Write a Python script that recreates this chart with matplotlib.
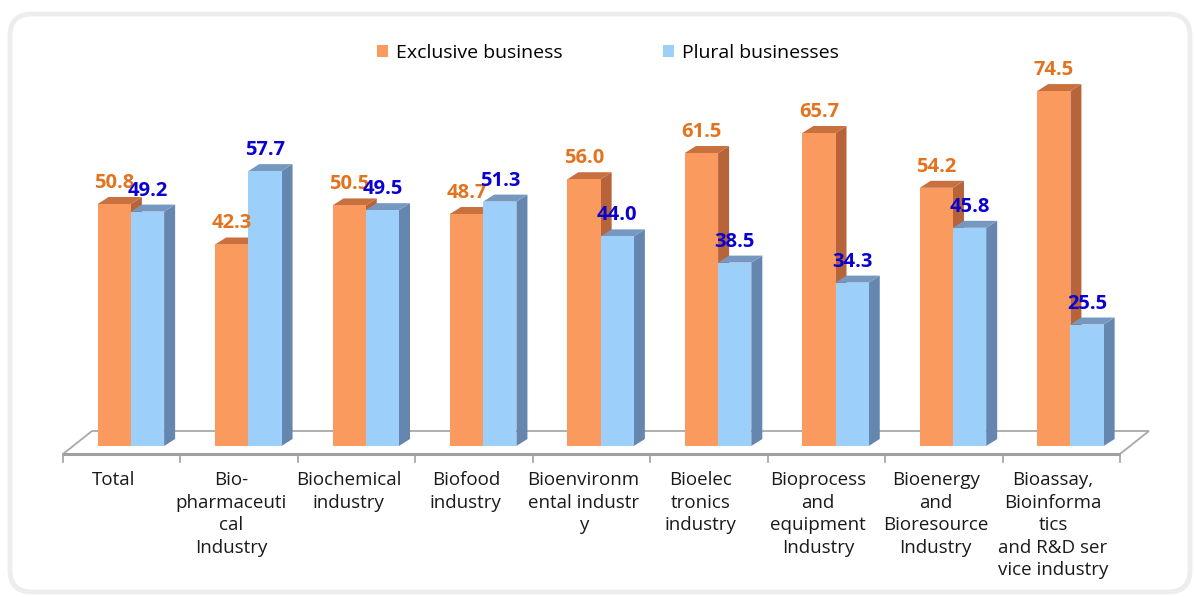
import matplotlib.pyplot as plt
from matplotlib.patches import Polygon, Patch, FancyBboxPatch
from matplotlib.transforms import IdentityTransform

# data
categories = ["Total",
              "Bio-\npharmaceuti\ncal\nIndustry",
              "Biochemical\nindustry",
              "Biofood\nindustry",
              "Bioenvironm\nental industr\ny",
              "Bioelec\ntronics\nindustry",
              "Bioprocess\nand\nequipment\nIndustry",
              "Bioenergy\nand\nBioresource\nIndustry",
              "Bioassay,\nBioinforma\ntics\nand R&D ser\nvice industry"]
exclusive = [50.8, 42.3, 50.5, 48.7, 56.0, 61.5, 65.7, 54.2, 74.5]
plural = [49.2, 57.7, 49.5, 51.3, 44.0, 38.5, 34.3, 45.8, 25.5]

plt.rcParams['font.family'] = ['Open Sans', 'DejaVu Sans']

W, H = 1194, 597
fig = plt.figure(figsize=(W / 100, H / 100), dpi=100)
fig.patch.set_facecolor('white')

# rounded panel border
fig.patches.append(FancyBboxPatch((10, 5), 1180, 578,
                                  boxstyle="round,pad=0,rounding_size=22",
                                  transform=IdentityTransform(),
                                  facecolor='none', edgecolor='#ededed',
                                  lw=3.5, zorder=-1))

# axis mapping (pixel layout)
x_left_px, cat_px = 63, 117.44      # left edge of first category, px per category
y0_px, unit_px = 446, 4.764         # pixel row of value 0, px per unit
ax = fig.add_axes([0, 0, 1, 1])
ax.set_xlim(-0.5 - x_left_px / cat_px, -0.5 + (W - x_left_px) / cat_px)
ax.set_ylim(-(H - y0_px) / unit_px, y0_px / unit_px)
ax.axis('off')
ax.patch.set_alpha(0)

n = len(categories)
bw = 0.283
dx = 11 / cat_px
dy = 7 / unit_px

# floor
f_front = -8 / unit_px
f_back = 15 / unit_px
f_shift = 29 / cat_px
floor = Polygon([(-0.5, f_front), (n - 0.5, f_front), (n - 0.5 + f_shift, f_back),
                 (-0.5 + f_shift, f_back)], closed=True, facecolor='white',
                edgecolor='#a8a8a8', lw=1.3, zorder=1)
ax.add_patch(floor)
ax.plot([-0.5, n - 0.5], [f_front, f_front], color='#a0a0a0', lw=2.2, zorder=1,
        solid_capstyle='butt')
for i in range(n + 1):
    ax.plot([i - 0.5, i - 0.5], [f_front, f_front - 8 / unit_px], color='#a0a0a0',
            lw=1.2, zorder=1)


def bar3d(x0, h, front, side, top, z):
    ax.add_patch(Polygon([(x0 + bw, 0), (x0 + bw + dx, dy), (x0 + bw + dx, h + dy),
                          (x0 + bw, h)], closed=True, facecolor=side, lw=0, zorder=z))
    ax.add_patch(Polygon([(x0, h), (x0 + bw, h), (x0 + bw + dx, h + dy), (x0 + dx, h + dy)],
                         closed=True, facecolor=top, lw=0, zorder=z))
    ax.bar(x0, h, width=bw, align='edge', color=front, lw=0, zorder=z + 0.1)


for i in range(n):
    xo = i - 0.205
    xb = xo + bw
    bar3d(xo, exclusive[i], '#FA9A5F', '#B8643A', '#C9703F', 2)
    bar3d(xb, plural[i], '#9DCFFB', '#6586AE', '#7698C0', 3)
    ax.text(xo + bw / 2, exclusive[i] + 16 / unit_px, f"{exclusive[i]:.1f}",
            ha='center', va='baseline', fontsize=14.5, fontweight='bold',
            color='#E3731E', zorder=5)
    ax.text(xb + bw / 2, plural[i] + 16 / unit_px, f"{plural[i]:.1f}",
            ha='center', va='baseline', fontsize=14.5, fontweight='bold',
            color='#0A00D0', zorder=5)
    ax.text(i - 0.07, -25 / unit_px, categories[i], ha='center', va='top',
            fontsize=13.5, color='#1a1a1a', linespacing=1.33)

# legend
handles = [Patch(facecolor='#FA9A5F', label='Exclusive business'),
           Patch(facecolor='#9DCFFB', label='Plural businesses')]
fig.legend(handles=handles, loc='center', bbox_to_anchor=(608 / W, 1 - 53 / H),
           ncol=2, frameon=False, fontsize=14, handlelength=0.55, handleheight=0.6,
           handletextpad=0.4, columnspacing=5.2)

fig.savefig('out.png', dpi=100)
